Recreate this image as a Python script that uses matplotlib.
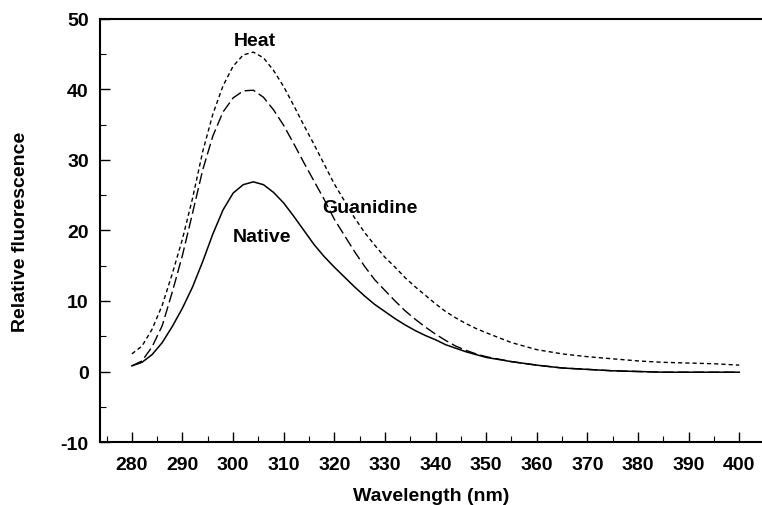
import matplotlib
matplotlib.use("Agg")
import matplotlib.pyplot as plt
from matplotlib.ticker import MultipleLocator

plt.rcParams['font.family'] = ['Liberation Sans', 'DejaVu Sans']
plt.rcParams['font.weight'] = 'bold'
plt.rcParams['axes.unicode_minus'] = False

wavelength = [280, 282, 284, 286, 288, 290, 292, 294, 296, 298, 300, 302, 304, 306, 308,
              310, 312, 314, 316, 318, 320, 322, 324, 326, 328, 330, 332, 334, 336, 338,
              340, 342, 344, 346, 348, 350, 355, 360, 365, 370, 375, 380, 385, 390, 395, 400]

native = [0.8, 1.3, 2.4, 4.1, 6.4, 9.0, 12.0, 15.6, 19.5, 22.9, 25.3, 26.5, 26.9, 26.5, 25.4,
          23.9, 22.0, 20.0, 18.0, 16.3, 14.8, 13.4, 12.0, 10.7, 9.5, 8.5, 7.5, 6.6, 5.8, 5.1,
          4.5, 3.8, 3.3, 2.8, 2.4, 2.0, 1.4, 0.9, 0.5, 0.3, 0.1, 0.0, -0.1, -0.1, -0.1, -0.1]

guanidine = [0.8, 1.5, 3.5, 6.5, 11.3, 16.5, 22.5, 28.6, 33.4, 36.8, 38.8, 39.8, 39.9, 38.9, 37.1,
             34.9, 32.3, 29.6, 27.0, 24.4, 21.6, 19.3, 17.0, 14.9, 13.0, 11.5, 10.0, 8.6, 7.4, 6.3,
             5.3, 4.4, 3.6, 3.0, 2.5, 2.1, 1.4, 0.9, 0.5, 0.3, 0.1, 0.0, -0.1, -0.1, -0.1, -0.1]

heat = [2.5, 3.6, 6.0, 9.4, 13.9, 18.8, 24.6, 31.2, 36.5, 40.5, 43.3, 44.9, 45.3, 44.5, 42.7,
        40.4, 37.7, 34.9, 32.2, 29.4, 26.6, 24.2, 21.8, 19.7, 17.9, 16.2, 14.8, 13.3, 12.0, 10.8,
        9.6, 8.5, 7.6, 6.8, 6.1, 5.5, 4.1, 3.1, 2.5, 2.1, 1.8, 1.5, 1.3, 1.2, 1.1, 0.9]

labels = ["Heat", "Guanidine", "Native"]
label_x = [304.3, 327.0, 305.7]
label_y = [46.9, 23.3, 19.1]

xticks = list(range(280, 401, 10))
yticks = list(range(-10, 51, 10))

fig = plt.figure(figsize=(7.62, 5.06), dpi=100)
ax = fig.add_axes([0.1312, 0.1245, 0.8688, 0.836])

ax.plot(wavelength, heat, color='black', lw=1.0, dashes=(3, 2.2))
ax.plot(wavelength, guanidine, color='black', lw=1.0, dashes=(8, 3))
ax.plot(wavelength, native, color='black', lw=1.1)

fs = 14
for t, x, y in zip(labels, label_x, label_y):
    ax.text(x, y, t, ha='center', va='center', fontsize=fs, fontweight='bold')

ax.set_xlim(273.7, 404.5)
ax.set_ylim(-10, 50)
ax.set_xticks(xticks)
ax.set_yticks(yticks)
ax.xaxis.set_minor_locator(MultipleLocator(5))
ax.yaxis.set_minor_locator(MultipleLocator(5))
ax.tick_params(which='major', direction='in', length=7, width=1.0, labelsize=fs)
ax.tick_params(which='minor', direction='in', length=4, width=0.8)
ax.tick_params(axis='y', which='major', pad=8)
ax.tick_params(axis='x', which='major', pad=10)
for lab in ax.get_xticklabels() + ax.get_yticklabels():
    lab.set_fontweight('bold')

ax.spines['right'].set_visible(False)
for s in ['left', 'bottom', 'top']:
    ax.spines[s].set_linewidth(1.5)

ax.set_xlabel("Wavelength (nm)", fontsize=fs, fontweight='bold', labelpad=10)
ax.set_ylabel("Relative fluorescence", fontsize=fs, fontweight='bold', labelpad=23)

fig.savefig("out.png", dpi=100)
